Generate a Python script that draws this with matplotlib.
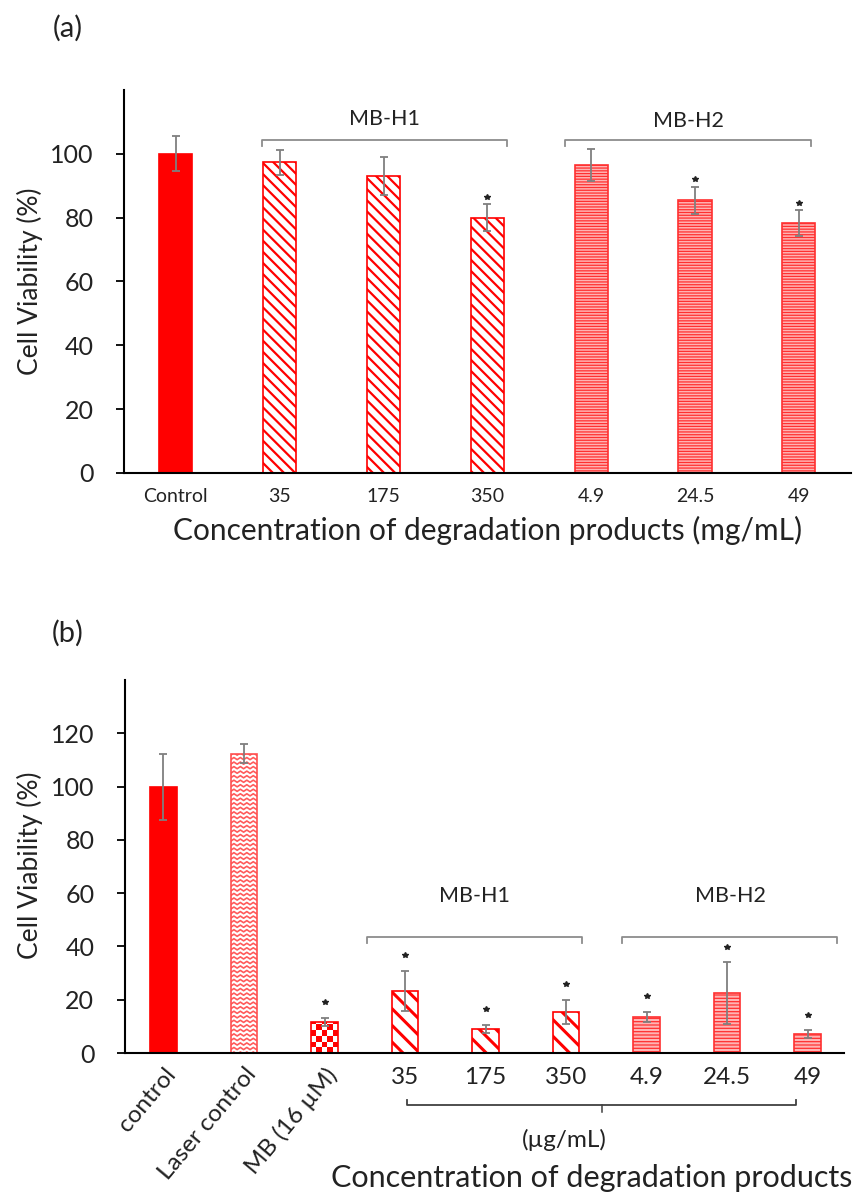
import matplotlib.pyplot as plt
import numpy as np
from matplotlib.colors import ListedColormap
from matplotlib.transforms import ScaledTranslation, blended_transform_factory

plt.rcParams['font.family'] = ['Lato', 'DejaVu Sans']

RED = '#ff0000'
ERR_COLOR = '#7f7f7f'
BRACKET_COLOR = '#8c8c8c'
TEXT = '#222222'

# (a) degradation products alone
a_labels = ['Control', '35', '175', '350', '4.9', '24.5', '49']
a_values = [100.0, 97.3, 93.1, 80.0, 96.5, 85.4, 78.3]
a_errors = [5.5, 4.0, 6.0, 4.3, 5.0, 4.3, 4.0]
a_groups = ['control', 'h1', 'h1', 'h1', 'h2', 'h2', 'h2']
a_signif = [False, False, False, True, False, True, True]

# (b) with laser irradiation
b_labels = ['control', 'Laser control', 'MB (16 µM)', '35', '175', '350', '4.9', '24.5', '49']
b_values = [100.0, 112.4, 11.7, 23.4, 9.0, 15.5, 13.5, 22.5, 7.1]
b_errors = [12.4, 3.6, 1.5, 7.5, 1.6, 4.5, 2.0, 11.6, 1.4]
b_groups = ['control', 'laser', 'mb', 'h1', 'h1', 'h1', 'h2', 'h2', 'h2']
b_signif = [False, False, True, True, True, True, True, True, True]

STYLES_A = {
    'control': dict(face=RED, edge=RED, hatch=None, hlw=1.0),
    'h1': dict(face='white', edge=RED, hatch='\\\\\\', hlw=1.6),
    'h2': dict(face='#ffb3b3', edge='#ff3030', hatch='------', hlw=0.9),
}
STYLES_B = {
    'control': dict(face=RED, edge=RED, hatch=None, hlw=1.0),
    'laser': dict(face='none', edge='#ff5050', hatch=None, hlw=1.0, pattern='zigzag'),
    'mb': dict(face='none', edge=RED, hatch=None, hlw=1.0, pattern='checker'),
    'h1': dict(face='white', edge=RED, hatch='\\\\', hlw=2.2),
    'h2': dict(face='#ffb3b3', edge='#ff3030', hatch='-----', hlw=0.9),
}


def zigzag_fill(ax, bar, step_y, period, amp, color):
    x0, w = bar.get_x(), bar.get_width()
    h = bar.get_height()
    xs = np.arange(x0, x0 + w + period, period / 2)
    offs = np.where(np.arange(len(xs)) % 2 == 0, -amp, amp)
    for yb in np.arange(0, h + step_y, step_y):
        ln, = ax.plot(xs, yb + offs, color=color, lw=1.2, zorder=1.9)
        ln.set_clip_path(bar)


def checker_fill(ax, bar, ncols, cell_h, color):
    x0, w = bar.get_x(), bar.get_width()
    h = bar.get_height()
    nrows = int(np.ceil(h / cell_h))
    board = np.add.outer(np.arange(nrows), np.arange(ncols)) % 2
    im = ax.imshow(board, cmap=ListedColormap([color, 'white']),
                   extent=(x0, x0 + w, 0, nrows * cell_h), origin='upper',
                   aspect='auto', interpolation='nearest', zorder=1.9)
    im.set_clip_path(bar)


def draw_bars(ax, values, errors, groups, signif, styles, width, star_gap):
    x = np.arange(len(values))
    for xi, v, g in zip(x, values, groups):
        st = styles[g]
        with plt.rc_context({'hatch.linewidth': st['hlw']}):
            bar = ax.bar(xi, v, width, color=st['face'], edgecolor=st['edge'],
                         hatch=st['hatch'], linewidth=1.2, zorder=2)[0]
            if hasattr(bar, 'set_hatch_linewidth'):
                bar.set_hatch_linewidth(st['hlw'])
        if st.get('pattern') == 'zigzag':
            zigzag_fill(ax, bar, 1.7, 0.08, 0.4, '#ff5a5a')
        elif st.get('pattern') == 'checker':
            checker_fill(ax, bar, 5, 2.1, RED)
    ax.errorbar(x, values, yerr=errors, fmt='none', ecolor=ERR_COLOR,
                elinewidth=1.3, capsize=2.6, capthick=1.3, zorder=3)
    for xi, v, e, s in zip(x, values, errors, signif):
        if s:
            ax.plot(xi, v + e + star_gap, marker='*', ms=4, color=TEXT, zorder=3)
    return x


def style_axes(ax, yticks, ylim, xlim):
    for side in ('top', 'right'):
        ax.spines[side].set_visible(False)
    for side in ('left', 'bottom'):
        ax.spines[side].set_linewidth(1.5)
        ax.spines[side].set_color('black')
    ax.set_yticks(yticks)
    ax.set_ylim(*ylim)
    ax.set_xlim(*xlim)
    ax.tick_params(axis='y', direction='out', length=6, width=1.3,
                   labelsize=18, pad=16, colors=TEXT)
    ax.tick_params(axis='y', color='black')
    ax.tick_params(axis='x', length=0, colors=TEXT)


def bracket(ax, x1, x2, y, drop, label, label_y):
    ax.plot([x1, x1, x2, x2], [y - drop, y, y, y - drop], color=BRACKET_COLOR,
            lw=1.3, clip_on=False, zorder=3)
    ax.text((x1 + x2) / 2, label_y, label, ha='center', va='center',
            fontsize=15.5, color=TEXT)


fig = plt.figure(figsize=(8.55, 11.98), dpi=100)

# ---- panel (a) ----
ax_a = fig.add_axes([0.145, 0.6052, 0.850, 0.3197])
xa = draw_bars(ax_a, a_values, a_errors, a_groups, a_signif, STYLES_A, 0.32, 2.3)
style_axes(ax_a, np.arange(0, 101, 20), (0, 120), (-0.5, 6.5))
ax_a.set_xticks(xa, a_labels, fontsize=14)
ax_a.tick_params(axis='x', pad=11)
bracket(ax_a, 0.83, 3.19, 104.4, 1.8, 'MB-H1', 110.8)
bracket(ax_a, 3.75, 6.12, 104.4, 1.8, 'MB-H2', 110.4)
ax_a.text(-0.129, 0.5, 'Cell Viability (%)', transform=ax_a.transAxes,
          rotation=90, ha='center', va='center', fontsize=19, color=TEXT)
ax_a.text(0.5, -0.149, 'Concentration of degradation products (mg/mL)',
          transform=ax_a.transAxes, ha='center', va='center', fontsize=21.5,
          color=TEXT)
fig.text(0.0795, 0.9766, '(a)', ha='center', va='center', fontsize=21, color=TEXT)

# ---- panel (b) ----
ax_b = fig.add_axes([0.146, 0.121, 0.841, 0.3114])
xb = draw_bars(ax_b, b_values, b_errors, b_groups, b_signif, STYLES_B, 0.33, 5.8)
style_axes(ax_b, np.arange(0, 121, 20), (0, 140), (-0.48, 8.45))
ax_b.set_xticks(xb, b_labels, fontsize=17.5)
ax_b.tick_params(axis='x', pad=10)
shift = ScaledTranslation(0.0, 0.03, fig.dpi_scale_trans)
for lab in ax_b.get_xticklabels()[:3]:
    lab.set_rotation(50)
    lab.set_rotation_mode('anchor')
    lab.set_ha('right')
    lab.set_va('top')
    lab.set_transform(lab.get_transform() + shift)
bracket(ax_b, 2.53, 5.20, 43.7, 2.4, 'MB-H1', 58.8)
bracket(ax_b, 5.70, 8.37, 43.7, 2.4, 'MB-H2', 58.8)

# unit bracket under the concentration labels
tb = blended_transform_factory(ax_b.transData, ax_b.transAxes)
ax_b.plot([3.02, 3.02, 7.86, 7.86], [-0.127, -0.139, -0.139, -0.127],
          transform=tb, color='#404040', lw=1.3, clip_on=False)
ax_b.plot([5.44, 5.44], [-0.139, -0.157], transform=tb, color='#404040',
          lw=1.1, clip_on=False)
fig.text(0.6596, 0.0484, '(µg/mL)', ha='center', va='center', fontsize=17.5, color=TEXT)
fig.text(0.9965, 0.0167, 'Concentration of degradation products', ha='right',
         va='center', fontsize=22, color=TEXT)
ax_b.text(-0.132, 0.504, 'Cell Viability (%)', transform=ax_b.transAxes,
          rotation=90, ha='center', va='center', fontsize=19, color=TEXT)
fig.text(0.0795, 0.4716, '(b)', ha='center', va='center', fontsize=21, color=TEXT)

fig.savefig('out.png', dpi=100)
